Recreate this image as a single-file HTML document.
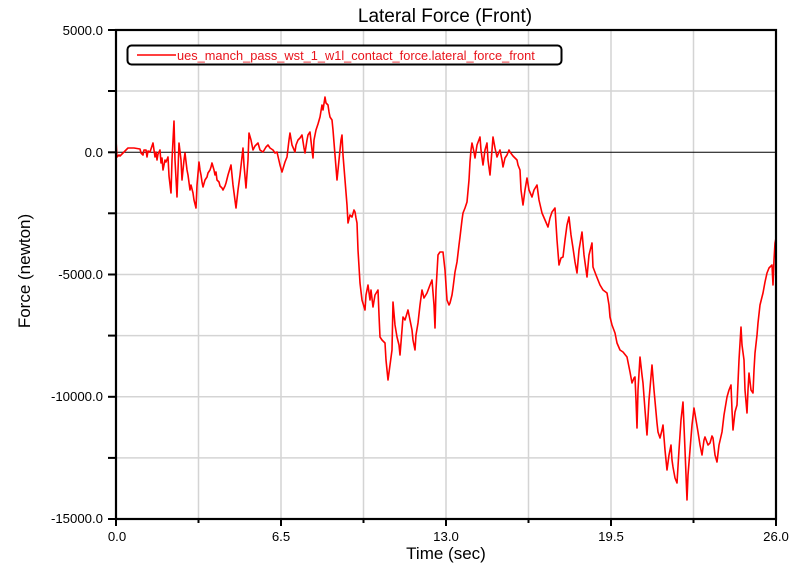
<!DOCTYPE html>
<html><head><meta charset="utf-8"><style>
html,body{margin:0;padding:0;background:#fff;}
svg{display:block;}
text{font-family:"Liberation Sans",Arial,sans-serif;}
</style></head><body>
<svg width="812" height="575" viewBox="0 0 812 575" xmlns="http://www.w3.org/2000/svg">
<rect width="812" height="575" fill="#fff"/>
<text x="445" y="22" font-size="19" text-anchor="middle" fill="#000">Lateral Force (Front)</text>
<g stroke="#d4d4d4" stroke-width="1.5">
<line x1="198.5" y1="30" x2="198.5" y2="519"/>
<line x1="281" y1="30" x2="281" y2="519"/>
<line x1="363.5" y1="30" x2="363.5" y2="519"/>
<line x1="446" y1="30" x2="446" y2="519"/>
<line x1="528.5" y1="30" x2="528.5" y2="519"/>
<line x1="611" y1="30" x2="611" y2="519"/>
<line x1="693.5" y1="30" x2="693.5" y2="519"/>
<line x1="116" y1="91" x2="776" y2="91"/>
<line x1="116" y1="213.3" x2="776" y2="213.3"/>
<line x1="116" y1="274.5" x2="776" y2="274.5"/>
<line x1="116" y1="335.6" x2="776" y2="335.6"/>
<line x1="116" y1="396.8" x2="776" y2="396.8"/>
<line x1="116" y1="457.9" x2="776" y2="457.9"/>
</g>
<line x1="116" y1="152.3" x2="776" y2="152.3" stroke="#000" stroke-width="1"/>
<polyline fill="none" stroke="#ff0000" stroke-width="1.6" stroke-linejoin="round" points="116,140 117,157 119,155 120,156 123,153 126,150 128,148 134,148 140,149 141,153 143,155 144,150 146,150 147,157 148,151 150,152 152,146 153,143 154,150 155,157 156,152 157,160 158,154 160,150 161,163 162,158 163,170 165,160 166,162 168,157 169,176 171,193 172,160 174,121 175,160 177,197 178,170 179,143 181,160 182,180 184,160 185,153 187,170 188,175 190,190 191,185 193,193 194,200 196,208 197,185 199,162 200,170 201,175 202,182 203,187 205,180 207,177 208,173 210,170 211,167 212,163 214,170 215,175 216,172 217,180 219,182 220,186 222,188 223,190 225,186 226,183 228,175 231,165 233,185 236,208 238,190 240,175 243,148 244,165 246,188 248,160 249,133 251,140 253,150 255,146 258,143 260,150 263,152 266,147 268,145 270,148 273,150 275,153 277,152 280,165 282,172 285,162 287,157 289,140 290,133 292,145 295,152 296,145 298,140 300,138 302,135 304,148 305,153 307,140 308,135 310,132 312,150 313,158 314,140 316,130 318,124 320,117 322,105 323,110 325,97 326,103 328,105 329,112 330,117 332,120 333,130 335,155 337,180 339,160 341,140 342,135 343,155 345,180 347,205 348,223 350,215 352,217 354,210 355,212 356,218 357,223 358,250 360,283 362,300 365,310 366,295 368,285 370,300 371,290 373,307 375,295 378,290 379,315 380,337 382,340 385,343 386,360 388,380 390,365 392,350 393,302 395,325 397,337 399,345 400,355 402,330 403,317 405,320 408,310 410,320 412,330 413,340 415,350 416,335 418,323 420,305 422,290 424,298 427,293 430,285 432,280 434,305 435,328 436,290 438,255 440,252 443,252 445,270 447,300 449,305 450,303 452,295 453,288 455,272 457,262 459,245 460,237 462,220 463,213 465,208 467,202 469,180 470,162 471,150 472,143 474,152 475,158 477,145 480,137 481,150 483,165 485,150 487,143 488,160 490,175 492,150 493,137 495,148 497,157 499,152 500,150 502,160 503,167 505,158 507,155 509,150 510,152 513,156 517,160 518,165 520,170 521,190 523,205 525,190 527,178 529,190 532,197 534,190 537,185 539,200 542,213 545,220 548,227 550,218 552,212 555,208 557,240 559,265 561,258 563,257 565,240 567,225 569,217 571,235 573,248 575,262 577,273 579,250 582,232 584,255 587,277 589,255 592,243 593,267 596,275 600,285 603,290 607,293 609,305 610,317 612,325 615,333 617,343 620,350 623,352 627,357 630,372 632,383 634,378 635,377 636,400 637,428 638,390 640,357 642,375 643,383 645,410 647,435 649,400 652,365 654,390 657,423 658,432 660,438 662,430 663,425 665,450 667,470 669,455 671,445 672,460 673,467 675,478 677,483 679,450 681,420 683,402 685,450 687,500 688,475 690,450 692,425 694,408 696,420 698,432 700,445 702,455 704,440 705,437 708,445 710,443 712,436 713,438 715,455 717,462 719,445 722,432 724,415 727,397 729,390 731,385 732,410 733,430 735,412 737,405 739,360 741,327 742,345 744,360 745,390 747,413 748,390 749,373 751,390 753,393 754,370 755,353 757,335 758,323 760,305 763,293 765,282 767,273 769,268 772,265 773,285 774,260 775,243 776,238"/>
<g stroke="#000" stroke-width="2.2" fill="none">
<rect x="116" y="30" width="660" height="489"/>
</g>
<g stroke="#000" stroke-width="2">
<line x1="108" y1="30" x2="116" y2="30"/>
<line x1="108" y1="91" x2="116" y2="91"/>
<line x1="108" y1="152.3" x2="116" y2="152.3"/>
<line x1="108" y1="213.3" x2="116" y2="213.3"/>
<line x1="108" y1="274.5" x2="116" y2="274.5"/>
<line x1="108" y1="335.6" x2="116" y2="335.6"/>
<line x1="108" y1="396.8" x2="116" y2="396.8"/>
<line x1="108" y1="457.9" x2="116" y2="457.9"/>
<line x1="108" y1="519" x2="116" y2="519"/>
<line x1="116" y1="519" x2="116" y2="526"/>
<line x1="198.5" y1="519" x2="198.5" y2="523"/>
<line x1="281" y1="519" x2="281" y2="526"/>
<line x1="363.5" y1="519" x2="363.5" y2="523"/>
<line x1="446" y1="519" x2="446" y2="526"/>
<line x1="528.5" y1="519" x2="528.5" y2="523"/>
<line x1="611" y1="519" x2="611" y2="526"/>
<line x1="693.5" y1="519" x2="693.5" y2="523"/>
<line x1="776" y1="519" x2="776" y2="526"/>
</g>
<g font-size="13.2" fill="#000" text-anchor="end">
<text x="103" y="35">5000.0</text>
<text x="103" y="157">0.0</text>
<text x="103" y="279">-5000.0</text>
<text x="103" y="401">-10000.0</text>
<text x="103" y="523">-15000.0</text>
</g>
<g font-size="13.2" fill="#000" text-anchor="middle">
<text x="117" y="541">0.0</text>
<text x="281" y="541">6.5</text>
<text x="446" y="541">13.0</text>
<text x="611" y="541">19.5</text>
<text x="776" y="541">26.0</text>
</g>
<text x="446" y="559" font-size="17" text-anchor="middle" fill="#000">Time (sec)</text>
<text transform="translate(30,271) rotate(-90)" font-size="17" text-anchor="middle" fill="#000">Force (newton)</text>
<rect x="127.5" y="45.5" width="434" height="19" rx="4" ry="4" fill="#fff" stroke="#000" stroke-width="2"/>
<line x1="137" y1="55" x2="176" y2="55" stroke="#ff0000" stroke-width="1.6"/>
<text x="177" y="59.8" font-size="12.8" fill="#e8141c">ues_manch_pass_wst_1_w1l_contact_force.lateral_force_front</text>
</svg>
</body></html>
